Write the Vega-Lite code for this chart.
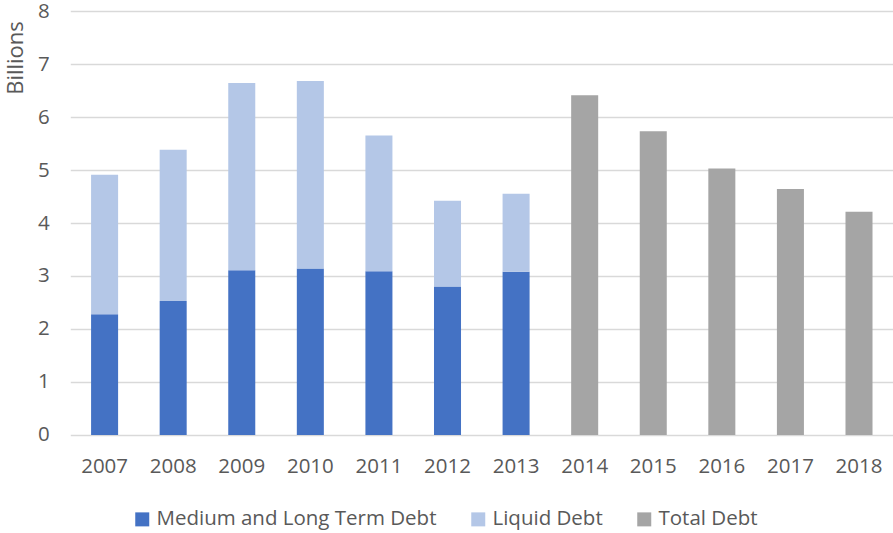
{
  "$schema": "https://vega.github.io/schema/vega-lite/v6.json",
  "width": 823,
  "height": 424,
  "autosize": {"type": "none"},
  "padding": {"left": 70.3, "top": 11, "right": 0, "bottom": 98},
  "background": "white",
  "config": {
    "view": {"stroke": null},
    "font": "Open Sans"
  },
  "data": {
    "values": [
      {"year": "2007", "series": "Medium and Long Term Debt", "value": 2.28},
      {"year": "2007", "series": "Liquid Debt", "value": 2.63},
      {"year": "2008", "series": "Medium and Long Term Debt", "value": 2.53},
      {"year": "2008", "series": "Liquid Debt", "value": 2.85},
      {"year": "2009", "series": "Medium and Long Term Debt", "value": 3.11},
      {"year": "2009", "series": "Liquid Debt", "value": 3.53},
      {"year": "2010", "series": "Medium and Long Term Debt", "value": 3.14},
      {"year": "2010", "series": "Liquid Debt", "value": 3.54},
      {"year": "2011", "series": "Medium and Long Term Debt", "value": 3.09},
      {"year": "2011", "series": "Liquid Debt", "value": 2.56},
      {"year": "2012", "series": "Medium and Long Term Debt", "value": 2.80},
      {"year": "2012", "series": "Liquid Debt", "value": 1.62},
      {"year": "2013", "series": "Medium and Long Term Debt", "value": 3.08},
      {"year": "2013", "series": "Liquid Debt", "value": 1.47},
      {"year": "2014", "series": "Total Debt", "value": 6.41},
      {"year": "2015", "series": "Total Debt", "value": 5.73},
      {"year": "2016", "series": "Total Debt", "value": 5.03},
      {"year": "2017", "series": "Total Debt", "value": 4.64},
      {"year": "2018", "series": "Total Debt", "value": 4.21}
    ]
  },
  "mark": {"type": "bar"},
  "encoding": {
    "x": {
      "field": "year",
      "type": "ordinal",
      "scale": {"paddingInner": 0.606, "paddingOuter": 0.303},
      "axis": {
        "title": null,
        "labelAngle": 0,
        "ticks": false,
        "domain": false,
        "grid": false,
        "labelPadding": 22,
        "labelFontSize": 20.5,
        "labelColor": "#595959",
        "labelFont": "Open Sans"
      }
    },
    "y": {
      "field": "value",
      "type": "quantitative",
      "stack": "zero",
      "scale": {"domain": [0, 8], "nice": false},
      "axis": {
        "title": "Billions",
        "values": [0, 1, 2, 3, 4, 5, 6, 7, 8],
        "ticks": false,
        "domain": false,
        "labelPadding": 21,
        "labelFontSize": 20.5,
        "labelColor": "#595959",
        "labelFont": "Open Sans",
        "gridColor": "#D9D9D9",
        "gridWidth": 1.5,
        "titleAngle": -90,
        "titleX": -47.6,
        "titleY": 9.7,
        "titleAlign": "right",
        "titleBaseline": "alphabetic",
        "titleFontSize": 22,
        "titleFontWeight": "normal",
        "titleFont": "Open Sans",
        "titleColor": "#595959"
      }
    },
    "color": {
      "field": "series",
      "type": "nominal",
      "scale": {
        "domain": ["Medium and Long Term Debt", "Liquid Debt", "Total Debt"],
        "range": ["#4472C4", "#B4C7E7", "#A5A5A5"]
      },
      "legend": {
        "title": null,
        "orient": "none",
        "direction": "horizontal",
        "legendX": 61.7,
        "legendY": 498,
        "symbolType": "square",
        "symbolSize": 196,
        "symbolStrokeWidth": 0,
        "labelFontSize": 20.5,
        "labelFont": "Open Sans",
        "labelColor": "#595959",
        "labelOffset": 4,
        "labelLimit": 0,
        "columnPadding": 31
      }
    },
    "order": {"field": "series", "sort": "descending"}
  }
}
